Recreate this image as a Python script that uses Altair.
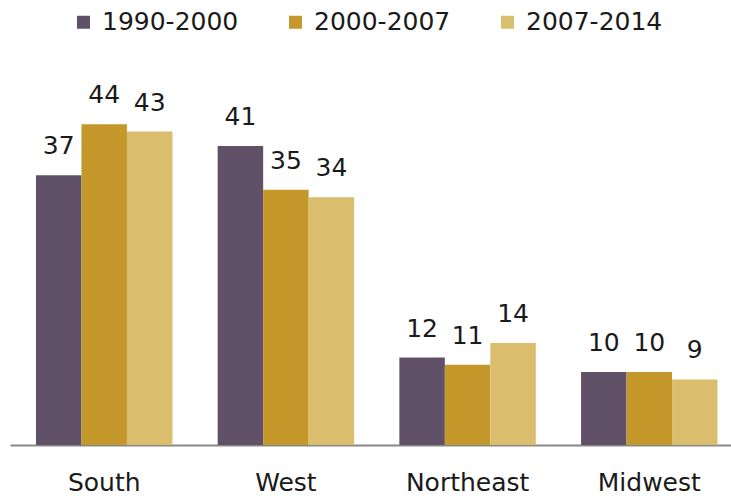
import altair as alt
import pandas as pd

regions = ["South", "West", "Northeast", "Midwest"]
periods = ["1990-2000", "2000-2007", "2007-2014"]
v_1990_2000 = [37, 41, 12, 10]
v_2000_2007 = [44, 35, 11, 10]
v_2007_2014 = [43, 34, 14, 9]
colors = ["#605068", "#c4982a", "#dbbe6d"]

rows = []
for i, r in enumerate(regions):
    for p, vals in zip(periods, [v_1990_2000, v_2000_2007, v_2007_2014]):
        rows.append({"region": r, "period": p, "value": vals[i]})
df = pd.DataFrame(rows)

FONT = "DejaVu Sans"

base = alt.Chart(df).encode(
    x=alt.X(
        "region:N",
        sort=regions,
        scale=alt.Scale(range=[0, 733.5], paddingInner=0.249, paddingOuter=0.143),
        axis=alt.Axis(
            title=None,
            labelAngle=0,
            ticks=False,
            domainColor="#888888",
            domainWidth=2,
            labelFont=FONT,
            labelFontSize=25,
            labelColor="#1a1a1a",
            labelPadding=25,
        ),
    ),
    xOffset=alt.XOffset(
        "period:N", sort=periods, scale=alt.Scale(paddingInner=0, paddingOuter=0)
    ),
    y=alt.Y("value:Q", scale=alt.Scale(domain=[0, 50], nice=False), axis=None),
)

bars = base.mark_bar().encode(
    color=alt.Color(
        "period:N",
        sort=periods,
        scale=alt.Scale(domain=periods, range=colors),
        legend=alt.Legend(
            title=None,
            orient="none",
            legendX=61,
            legendY=-71,
            direction="horizontal",
            symbolType="square",
            symbolSize=169,
            symbolStrokeWidth=0,
            labelFont=FONT,
            labelFontSize=25,
            labelColor="#1a1a1a",
            labelOffset=6,
            columnPadding=44,
            padding=0,
        ),
    )
)

text = base.mark_text(
    dy=-21, baseline="alphabetic", fontSize=25, font=FONT, color="#1a1a1a"
).encode(text="value:Q")

chart = (
    alt.layer(bars, text)
    .properties(
        width=721,
        height=364.5,
        autosize=alt.AutoSizeParams(type="none"),
        padding={"left": 10, "top": 80.5, "right": 0, "bottom": 51},
    )
    .configure_view(stroke=None)
)

chart.save("out.html", embed_options={"renderer": "svg", "actions": False})
